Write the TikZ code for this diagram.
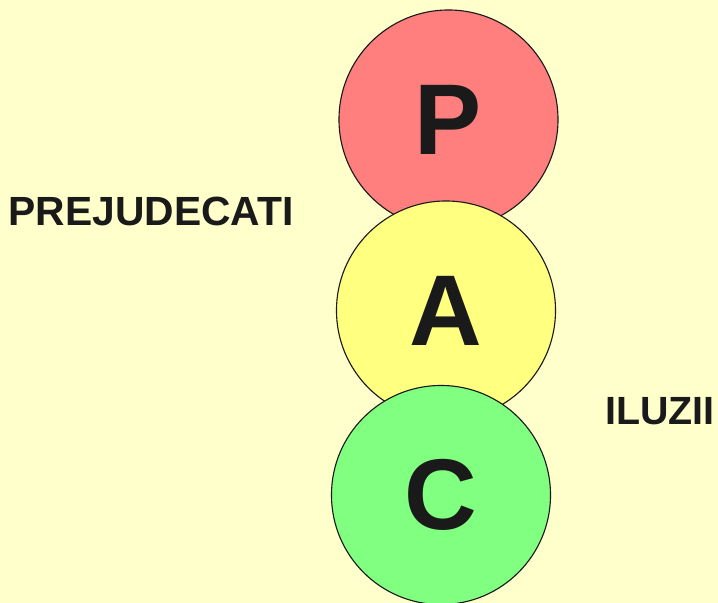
\documentclass[tikz,border=0pt]{standalone}
\usepackage{fontspec}
\setmainfont{Liberation Sans}
\usepackage{xcolor}
\usepackage{tikz}
\definecolor{paper}{HTML}{FFFFCC}
\definecolor{pink}{HTML}{FF7F7F}
\definecolor{lemon}{HTML}{FFFF80}
\definecolor{mint}{HTML}{80FF80}
\definecolor{ink}{HTML}{1A1A1A}
\tikzset{
  ball/.style={circle,draw=ink,line width=0.8pt,fill=#1,minimum size=5.475cm,inner sep=0pt,
    font=\fontsize{71.5}{72}\selectfont\bfseries,text=ink},
  word/.style={inner sep=0pt,font=\fontsize{28}{30}\selectfont\bfseries,text=ink}
}

\begin{document}
\begin{tikzpicture}[x=0.025cm,y=-0.025cm]
\fill[paper](0,0)rectangle(718,603);
\useasboundingbox(0,0)rectangle(718,603);
% three stacked circles, each one over the one above it
\node[ball=pink](P)at(448.5,119.5){\raisebox{-0.1cm}{P}};
\node[ball=lemon](A)at(446,310.5){\raisebox{-0.07cm}{A}};
\node[ball=mint](C)at(441,495){\raisebox{-0.14cm}{C}};
\node[word,font=\fontsize{29}{30}\selectfont\bfseries](prej)at(151,211){PREJUDECATI};
\node[word](iluz)at(660,411){ILUZII};
\end{tikzpicture}
\end{document}
